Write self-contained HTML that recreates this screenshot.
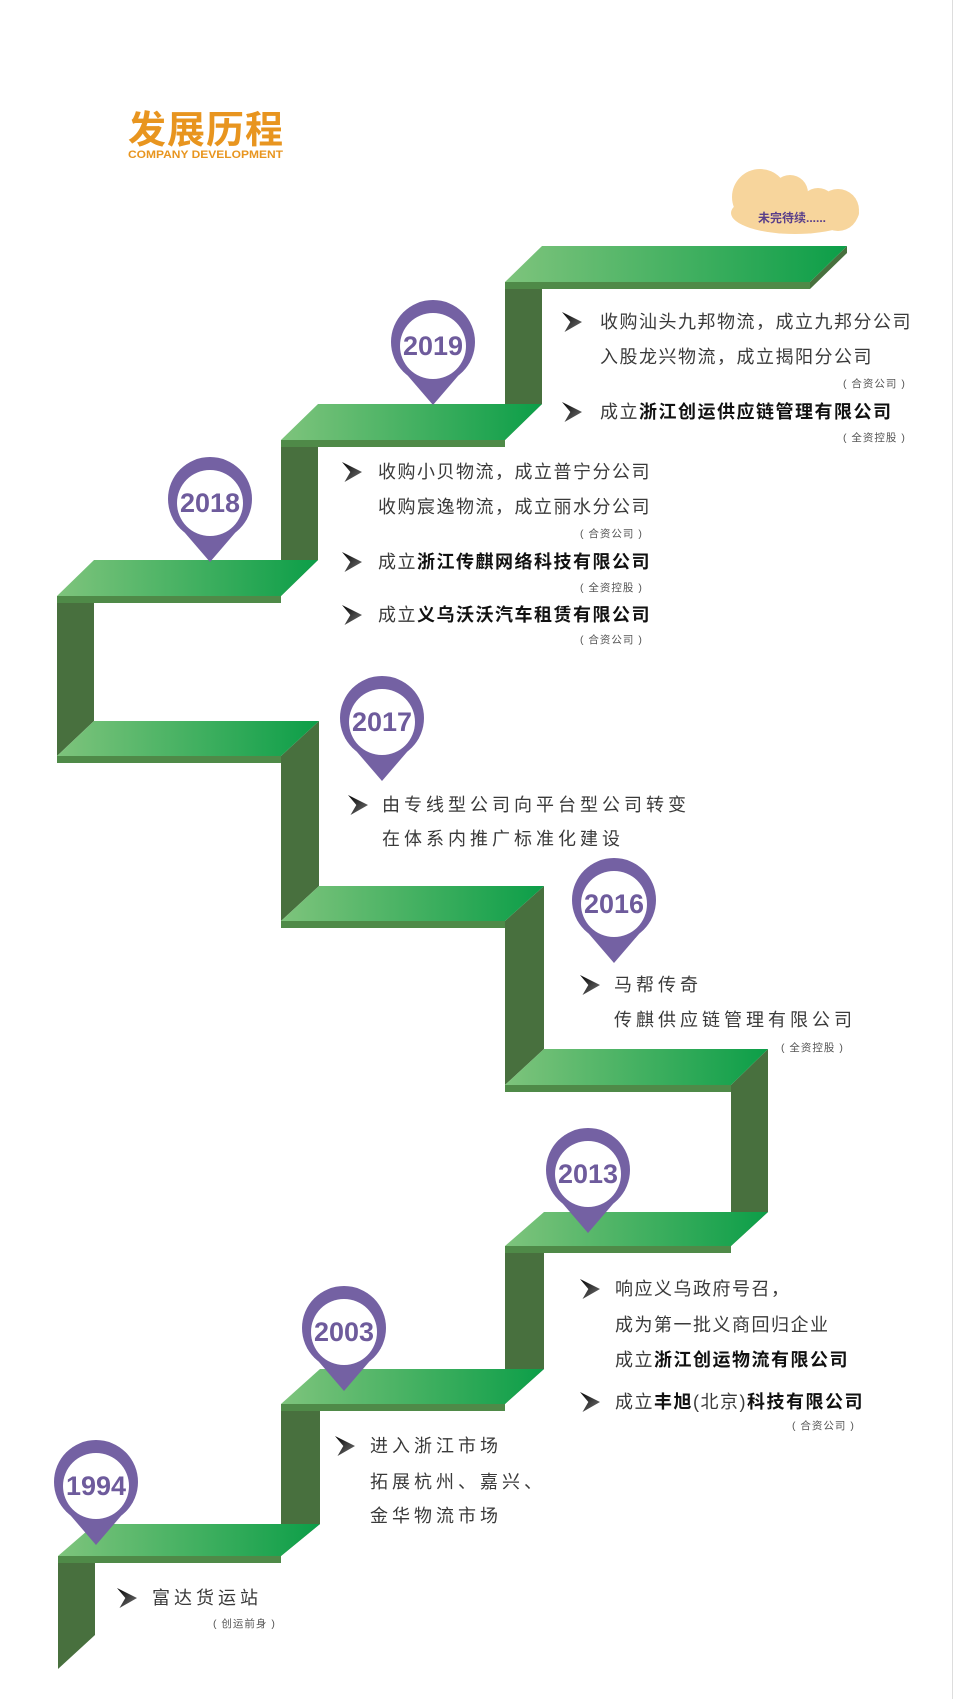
<!DOCTYPE html>
<html><head><meta charset="utf-8"><style>
html,body{margin:0;padding:0;background:#fff;}
svg{display:block;}
text{font-family:"Liberation Sans","Noto Sans CJK SC",sans-serif;}
.t{font-size:18px;fill:#3a3a3a;letter-spacing:1.5px;}
.w{font-size:18px;fill:#3a3a3a;letter-spacing:4px;}
.b{font-weight:bold;fill:#111;}
.s{font-size:10.5px;fill:#555;letter-spacing:1px;}
.y{font-size:27px;font-weight:bold;fill:#6e5b9c;}
</style></head><body>
<svg width="955" height="1699" viewBox="0 0 955 1699" xmlns="http://www.w3.org/2000/svg">
<defs>
<linearGradient id="g" x1="0" x2="1" y1="0" y2="0">
<stop offset="0" stop-color="#7ec47c"/><stop offset="1" stop-color="#0c9e48"/></linearGradient>
<linearGradient id="ar" x1="0" x2="1" y1="0" y2="1">
<stop offset="0" stop-color="#000"/><stop offset="1" stop-color="#777"/></linearGradient>
<symbol id="arrow" viewBox="0 0 24 24"><path d="M0,0 L24,12 L3,24 L10,12 Z" fill="url(#ar)"/></symbol>
<g id="pin"><circle cx="0" cy="0" r="42" fill="#7461a3"/><path d="M-37,20 L0,63 L37,20 Z" fill="#7461a3"/><circle cx="0" cy="4" r="33" fill="#fff"/></g>
</defs>
<line x1="952.5" y1="0" x2="952.5" y2="1699" stroke="#ddd" stroke-width="1"/>

<text x="128" y="143" style="font-size:38px;font-weight:bold;fill:#e8951f;letter-spacing:1px;">发展历程</text>
<text x="128" y="158" style="font-size:11px;font-weight:bold;fill:#e8951f;" textLength="155" lengthAdjust="spacingAndGlyphs">COMPANY DEVELOPMENT</text>

<g fill="#f7d59c">
<ellipse cx="795" cy="213" rx="64" ry="21"/>
<circle cx="760" cy="197" r="28"/>
<circle cx="790" cy="193" r="18"/>
<circle cx="818" cy="206" r="18"/>
<circle cx="838" cy="210" r="21"/>
</g>
<text x="758" y="222" style="font-size:12px;font-weight:bold;fill:#5a3f8a;">未完待续......</text>

<g fill="#48703e">
<polygon points="847,246 847,253 810,289 810,282"/>
<polygon points="505,289 542,289 542,404 505,440"/>
<polygon points="281,447 318,447 318,560 281,596"/>
<polygon points="57,603 94,603 94,721 57,756"/>
<polygon points="319,721 319,886 281,921 281,756"/>
<polygon points="544,886 544,1049 505,1085 505,921"/>
<polygon points="768,1049 768,1212 731,1246 731,1085"/>
<polygon points="505,1253 544,1253 544,1369 505,1404"/>
<polygon points="281,1411 320,1411 320,1524 281,1556"/>
<polygon points="58,1563 95,1563 95,1635 58,1669"/>
</g>
<g>
<polygon points="542,246 847,246 810,282 505,282" fill="url(#g)"/><rect x="505" y="282" width="305" height="7" fill="#4f8a48"/>
<polygon points="318,404 542,404 505,440 281,440" fill="url(#g)"/><rect x="281" y="440" width="224" height="7" fill="#4f8a48"/>
<polygon points="94,560 318,560 281,596 57,596" fill="url(#g)"/><rect x="57" y="596" width="224" height="7" fill="#4f8a48"/>
<polygon points="94,721 319,721 281,756 57,756" fill="url(#g)"/><rect x="57" y="756" width="224" height="7" fill="#4f8a48"/>
<polygon points="319,886 544,886 505,921 281,921" fill="url(#g)"/><rect x="281" y="921" width="224" height="7" fill="#4f8a48"/>
<polygon points="544,1049 768,1049 731,1085 505,1085" fill="url(#g)"/><rect x="505" y="1085" width="226" height="7" fill="#4f8a48"/>
<polygon points="544,1212 768,1212 731,1246 505,1246" fill="url(#g)"/><rect x="505" y="1246" width="226" height="7" fill="#4f8a48"/>
<polygon points="320,1369 544,1369 505,1404 281,1404" fill="url(#g)"/><rect x="281" y="1404" width="224" height="7" fill="#4f8a48"/>
<polygon points="95,1524 320,1524 281,1556 58,1556" fill="url(#g)"/><rect x="58" y="1556" width="223" height="7" fill="#4f8a48"/>
</g>

<use href="#pin" x="433" y="342"/><text class="y" x="433" y="355" text-anchor="middle" textLength="60" lengthAdjust="spacingAndGlyphs">2019</text>
<use href="#pin" x="210" y="499"/><text class="y" x="210" y="512" text-anchor="middle" textLength="60" lengthAdjust="spacingAndGlyphs">2018</text>
<use href="#pin" x="382" y="718"/><text class="y" x="382" y="731" text-anchor="middle" textLength="60" lengthAdjust="spacingAndGlyphs">2017</text>
<use href="#pin" x="614" y="900"/><text class="y" x="614" y="913" text-anchor="middle" textLength="60" lengthAdjust="spacingAndGlyphs">2016</text>
<use href="#pin" x="588" y="1170"/><text class="y" x="588" y="1183" text-anchor="middle" textLength="60" lengthAdjust="spacingAndGlyphs">2013</text>
<use href="#pin" x="344" y="1328"/><text class="y" x="344" y="1341" text-anchor="middle" textLength="60" lengthAdjust="spacingAndGlyphs">2003</text>
<use href="#pin" x="96" y="1482"/><text class="y" x="96" y="1495" text-anchor="middle" textLength="60" lengthAdjust="spacingAndGlyphs">1994</text>

<use href="#arrow" x="561" y="312" width="22" height="20"/>
<text class="t" x="600" y="328">收购汕头九邦物流，成立九邦分公司</text>
<text class="t" x="600" y="363">入股龙兴物流，成立揭阳分公司</text>
<text class="s" x="843" y="387">( 合资公司 )</text>
<use href="#arrow" x="561" y="402" width="22" height="20"/>
<text class="t" x="600" y="418">成立<tspan class="b">浙江创运供应链管理有限公司</tspan></text>
<text class="s" x="843" y="441">( 全资控股 )</text>

<use href="#arrow" x="341" y="462" width="22" height="20"/>
<text class="t" x="378" y="478">收购小贝物流，成立普宁分公司</text>
<text class="t" x="378" y="513">收购宸逸物流，成立丽水分公司</text>
<text class="s" x="580" y="537">( 合资公司 )</text>
<use href="#arrow" x="341" y="552" width="22" height="20"/>
<text class="t" x="378" y="568">成立<tspan class="b">浙江传麒网络科技有限公司</tspan></text>
<text class="s" x="580" y="591">( 全资控股 )</text>
<use href="#arrow" x="341" y="605" width="22" height="20"/>
<text class="t" x="378" y="621">成立<tspan class="b">义乌沃沃汽车租赁有限公司</tspan></text>
<text class="s" x="580" y="643">( 合资公司 )</text>

<use href="#arrow" x="347" y="795" width="22" height="20"/>
<text class="w" x="382" y="811">由专线型公司向平台型公司转变</text>
<text class="w" x="382" y="845">在体系内推广标准化建设</text>

<use href="#arrow" x="579" y="975" width="22" height="20"/>
<text class="w" x="614" y="991">马帮传奇</text>
<text class="w" x="614" y="1026">传麒供应链管理有限公司</text>
<text class="s" x="781" y="1051">( 全资控股 )</text>

<use href="#arrow" x="579" y="1279" width="22" height="20"/>
<text class="t" x="615" y="1295">响应义乌政府号召，</text>
<text class="t" x="615" y="1331">成为第一批义商回归企业</text>
<text class="t" x="615" y="1366">成立<tspan class="b">浙江创运物流有限公司</tspan></text>
<use href="#arrow" x="579" y="1392" width="22" height="20"/>
<text class="t" x="615" y="1408">成立<tspan class="b">丰旭</tspan>(北京)<tspan class="b">科技有限公司</tspan></text>
<text class="s" x="792" y="1429">( 合资公司 )</text>

<use href="#arrow" x="334" y="1436" width="22" height="20"/>
<text class="w" x="370" y="1452">进入浙江市场</text>
<text class="w" x="370" y="1488">拓展杭州、嘉兴、</text>
<text class="w" x="370" y="1522">金华物流市场</text>

<use href="#arrow" x="116" y="1588" width="22" height="20"/>
<text class="w" x="152" y="1604">富达货运站</text>
<text class="s" x="213" y="1627">( 创运前身 )</text>
</svg>
</body></html>
